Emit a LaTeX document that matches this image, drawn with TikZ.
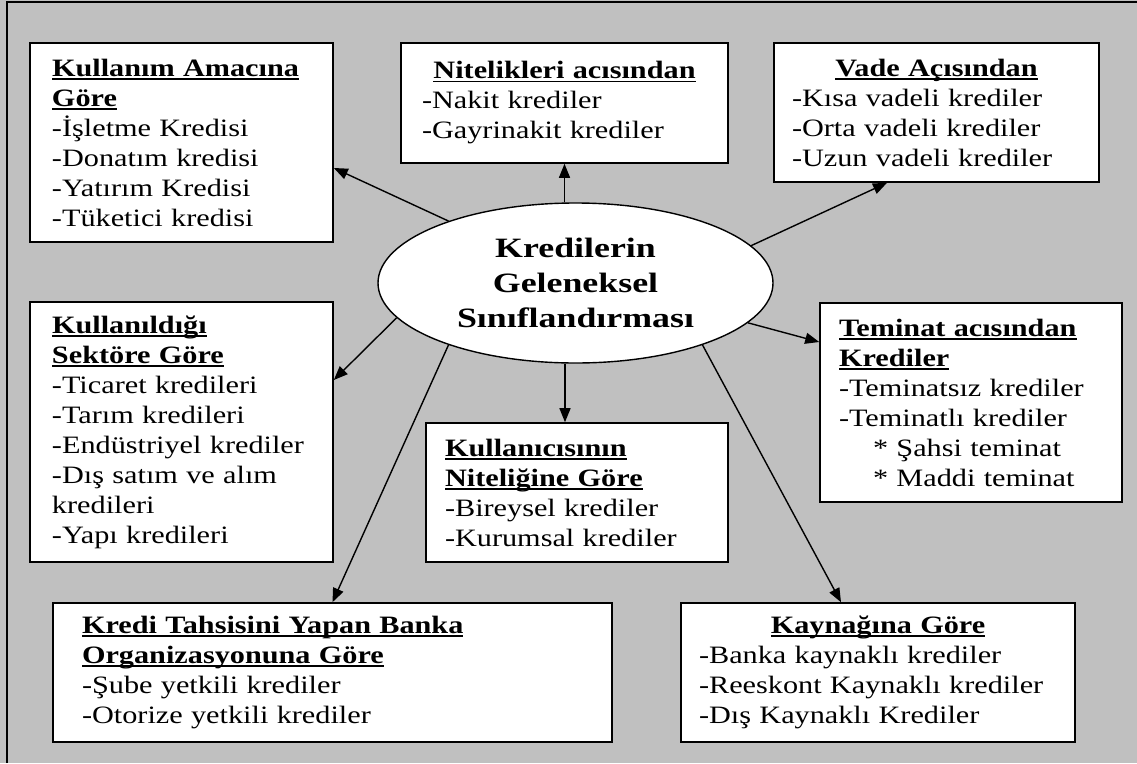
\documentclass[tikz,border=0pt]{standalone}
\usepackage{fontspec}
\setmainfont{Liberation Serif}[FakeStretch=1.21]
\newfontfamily\ellfont{Liberation Serif}[FakeStretch=1.28]
\usepackage{tikz}
\usetikzlibrary{arrows.meta,shapes.geometric}
\definecolor{bggray}{HTML}{C0C0C0}
\newsavebox\ttlbox
\newcommand\ttl[1]{\leavevmode\sbox\ttlbox{\bfseries#1}\rlap{\rule[-3.5pt]{\wd\ttlbox}{1.8pt}}\usebox\ttlbox}
\newcommand\ctl[1]{\leavevmode\makebox[\hsize][c]{\ttl{#1}}}

\begin{document}
\begin{tikzpicture}[x=1pt,y=-1pt,
	box/.style = {draw, line width=1.6pt, fill=white, rectangle, inner sep=0pt, align=left,
		font=\fontsize{25pt}{30pt}\selectfont},
	arr/.style = {-{Triangle[length=14pt,width=11pt]}, line width=1.4pt}]
	\useasboundingbox (0,0) rectangle (1137,763);
	\fill[bggray] (0,0) rectangle (1137,763);
	\draw[line width=1.5pt] (7,763) -- (7,2) -- (1137,2);
	% centre
	\node[ellipse, draw, line width=1.4pt, fill=white, inner sep=0pt, minimum width=395pt, minimum height=160pt,
		align=center, font=\ellfont\bfseries\fontsize{28pt}{35pt}\selectfont] (kredi) at (575.5,283)
		{Kredilerin\\Geleneksel\\Sınıflandırması};
	% boxes
	\node[box, minimum width=303pt, minimum height=199pt, text width=259pt] (amac) at (181.5,142.5)
		{\ttl{Kullanım Amacına}\\\ttl{Göre}\\-İşletme Kredisi\\-Donatım kredisi\\-Yatırım Kredisi\\-Tüketici kredisi};
	\node[box, minimum width=327pt, minimum height=120pt, text width=285pt] (nitelik) at (564.5,103)
		{\ctl{Nitelikleri acısından}\\-Nakit krediler\\-Gayrinakit krediler};
	\node[box, minimum width=325pt, minimum height=139pt, text width=289pt] (vade) at (936.5,112.5)
		{\ctl{Vade Açısından}\\-Kısa vadeli krediler\\-Orta vadeli krediler\\-Uzun vadeli krediler};
	\node[box, minimum width=303pt, minimum height=260pt, text width=259pt] (sektor) at (181.5,432)
		{\ttl{Kullanıldığı}\\\ttl{Sektöre Göre}\\-Ticaret kredileri\\-Tarım kredileri\\-Endüstriyel krediler\\-Dış satım ve alım\\kredileri\\-Yapı kredileri};
	\node[box, minimum width=302pt, minimum height=139pt, text width=264pt] (kullanici) at (577,492.5)
		{\ttl{Kullanıcısının}\\\ttl{Niteliğine Göre}\\-Bireysel krediler\\-Kurumsal krediler};
	\node[box, minimum width=302pt, minimum height=199pt, text width=264pt] (teminat) at (971,402.5)
		{\ttl{Teminat acısından}\\\ttl{Krediler}\\-Teminatsız krediler\\-Teminatlı krediler\\\hspace*{34pt}* Şahsi teminat\\\hspace*{34pt}* Maddi teminat};
	\node[box, minimum width=559pt, minimum height=139pt, text width=501pt] (tahsis) at (332.5,672.5)
		{\ttl{Kredi Tahsisini Yapan Banka}\\\ttl{Organizasyonuna Göre}\\-Şube yetkili krediler\\-Otorize yetkili krediler};
	\node[box, minimum width=394pt, minimum height=139pt, text width=358pt] (kaynak) at (878,672.5)
		{\ctl{Kaynağına Göre}\\-Banka kaynaklı krediler\\-Reeskont Kaynaklı krediler\\-Dış Kaynaklı Krediler};
	% arrows
	\coordinate (kdown) at ([xshift=-12pt]kullanici.north);
	\draw[arr] (kredi.154.7) -- ([yshift=-25.5pt]amac.east);
	\draw[arr] (nitelik.south |- kredi.north) -- (nitelik.south);
	\draw[arr] (kredi.12.9) -- ([xshift=-49.5pt]vade.south);
	\draw[arr] (kredi.191.5) -- ([yshift=52pt]sektor.east);
	\draw[arr] (kdown |- kredi.south) -- (kdown);
	\draw[arr] (kredi.347.7) -- ([yshift=60.5pt]teminat.west);
	\draw[arr] (kredi.206.3) -- (tahsis.north);
	\draw[arr] (kredi.334.8) -- ([xshift=-37pt]kaynak.north);
\end{tikzpicture}
\end{document}
